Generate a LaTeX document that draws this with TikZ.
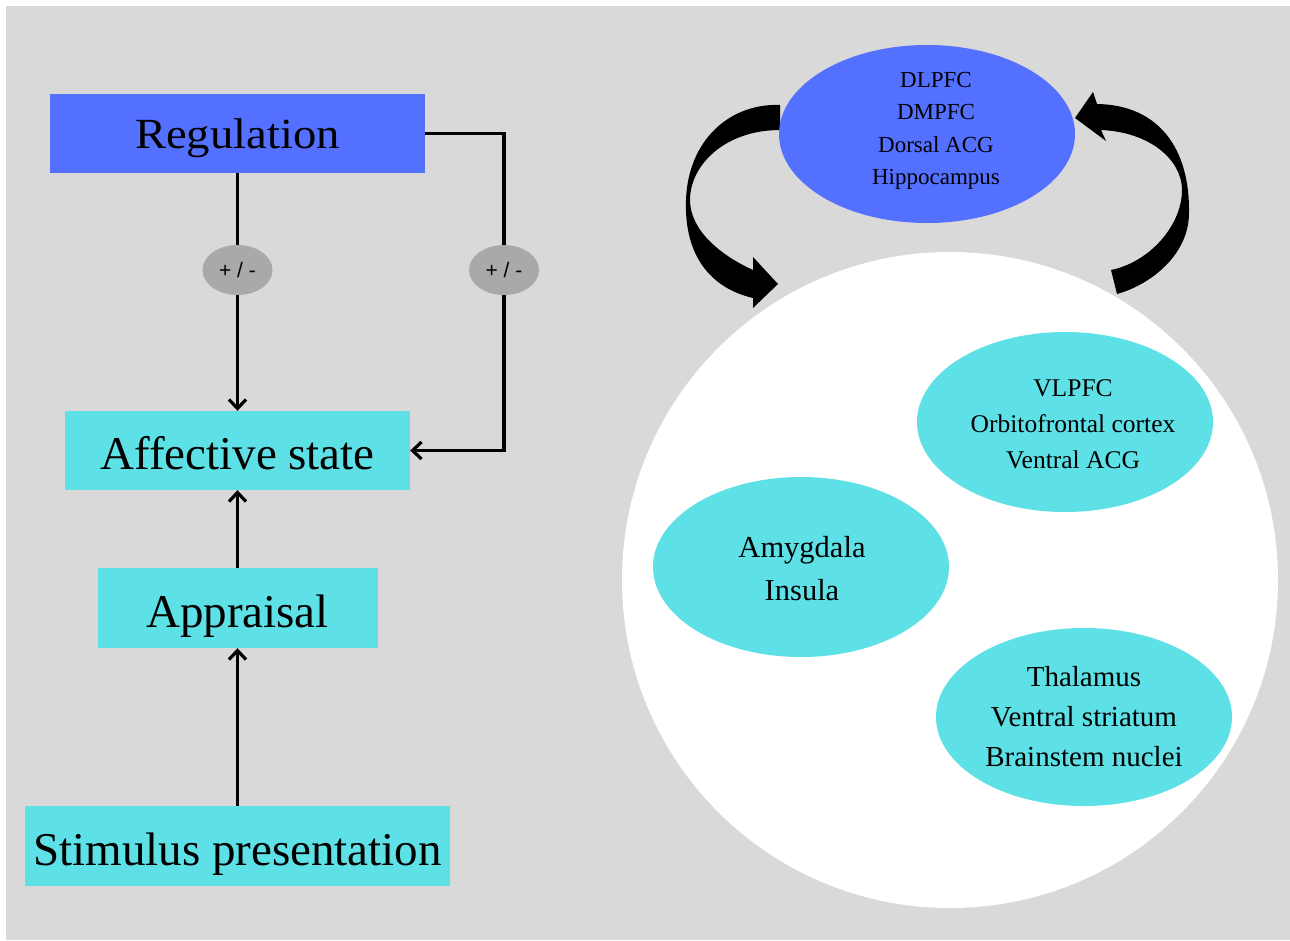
\documentclass[tikz,border=0pt]{standalone}
\usepackage{fontspec}
\setmainfont{Liberation Serif}
\newfontfamily\pmfont{Liberation Sans}
\usetikzlibrary{shapes.geometric,arrows.meta}
\definecolor{bggray}{HTML}{D9D9D9}
\definecolor{regblue}{HTML}{5470FF}
\definecolor{affcyan}{HTML}{5DE0E6}
\definecolor{pmgray}{HTML}{A9A9A9}
\begin{document}
\begin{tikzpicture}[x=1pt,y=-1pt,
  box/.style={rectangle, inner sep=0pt, text height=48pt, text depth=10pt, font=\fontsize{47}{56}\selectfont},
  pmsign/.style={ellipse, fill=pmgray, minimum width=70pt, minimum height=50pt, inner sep=0pt, font=\pmfont\fontsize{21}{25}\selectfont},
  region/.style={ellipse, minimum width=296pt, minimum height=178pt, inner sep=0pt},
  regtext/.style={align=center, inner sep=0pt},
  link/.style={line width=3.2pt},
  linkarrow/.style={link, -{Straight Barb[length=9pt,width=17pt]}}
]
\useasboundingbox (0,0) rectangle (1290,940);
\fill[bggray] (6,6) rectangle (1290,940);

% ---- brain regions ----
\node[circle, fill=white, minimum size=656pt, inner sep=0pt] (brain) at (950,580) {};

% curved feedback arrows between cortex and subcortical circle
\fill[black] (780,105) .. controls (730,103) and (688,140) .. (686,200)
  .. controls (684,255) and (710,288) .. (753,298)
  -- (753,308) -- (778,284) -- (753,257) -- (753,270)
  .. controls (720,255) and (690,230) .. (690,200)
  .. controls (690,165) and (725,130) .. (780,130) -- cycle;
\fill[black] (1117,294) .. controls (1150,285) and (1189,255) .. (1189,213)
  .. controls (1190,150) and (1160,105) .. (1097,104)
  -- (1093,92) -- (1075,118) -- (1106,141) -- (1101,130)
  .. controls (1150,132) and (1182,160) .. (1182,190)
  .. controls (1182,225) and (1150,262) .. (1111,270) -- cycle;

\node[region, fill=regblue] (pfc) at (927,134) {};
\node[regtext, font=\fontsize{23}{32.5}\selectfont] (pfctext) at (936,131) {DLPFC\\DMPFC\\Dorsal ACG\\Hippocampus};

\node[region, fill=affcyan, minimum height=180pt] (vl) at (1065,422) {};
\node[regtext, font=\fontsize{25.5}{36}\selectfont] (vltext) at (1073,424) {VLPFC\\Orbitofrontal cortex\\Ventral ACG};

\node[region, fill=affcyan, minimum height=180pt] (am) at (801,567) {};
\node[regtext, font=\fontsize{30.5}{43}\selectfont] (amtext) at (802,569) {Amygdala\\Insula};

\node[region, fill=affcyan] (th) at (1084,717) {};
\node[regtext, font=\fontsize{29}{40}\selectfont] (thtext) at (1084,717) {Thalamus\\Ventral striatum\\Brainstem nuclei};

% ---- process chain ----
\node[box, fill=regblue, minimum width=375pt, minimum height=79pt, text height=40pt, font=\fontsize{43}{52}\selectfont] (reg) at (237.5,133.5) {\scalebox{1.086}[1]{Regulation}};
\node[box, fill=affcyan, minimum width=345pt, minimum height=79pt] (aff) at (237.5,450.5) {Affective state};
\node[box, fill=affcyan, minimum width=280pt, minimum height=80pt] (app) at (237.5,608) {Appraisal};
\node[box, fill=affcyan, minimum width=425pt, minimum height=80pt] (stim) at (237.5,846) {Stimulus presentation};

\node[pmsign] (pmL) at (237.5,270) {+ / -};
\node[pmsign] (pmR) at (504,270) {+ / -};

\draw[link] (reg.south) -- (pmL.north);
\draw[linkarrow] (pmL.south) -- (aff.north);
\draw[link] (reg.east) -| (pmR.north);
\draw[linkarrow] (pmR.south) |- (aff.east);
\draw[linkarrow] (app.north) -- (aff.south);
\draw[linkarrow] (stim.north) -- (app.south);
\end{tikzpicture}
\end{document}
